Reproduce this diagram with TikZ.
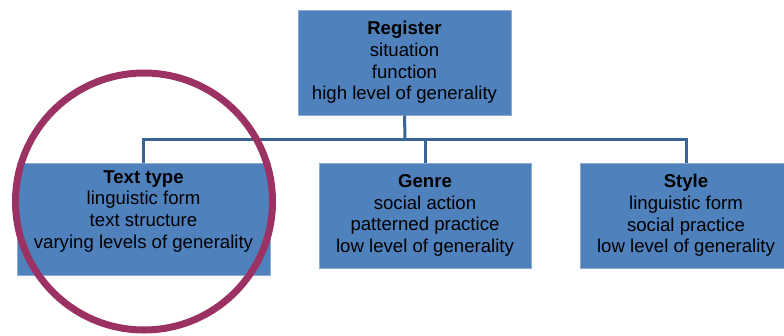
\documentclass[tikz,border=0pt]{standalone}
\usepackage{fontspec}
\setmainfont{Liberation Sans}
\definecolor{boxfill}{RGB}{79,129,189}
\definecolor{boxedge}{RGB}{140,170,212}
\definecolor{linkblue}{RGB}{58,100,150}
\definecolor{ringred}{RGB}{155,50,99}
\tikzset{
  stagetext/.style={align=center, inner sep=0pt, font=\fontsize{18.6}{21.7}\selectfont},
  stagebox/.style={stagetext, draw=boxedge, line width=1pt, fill=boxfill},
  link/.style={draw=linkblue, line width=3pt},
  ring/.style={draw=ringred, line width=7pt}
}
\begin{document}
\begin{tikzpicture}[x=1pt,y=-1pt]
\useasboundingbox (0,0) rectangle (784,335);
% top level
\node[stagebox, minimum width=213, minimum height=105] (reg) at (404.5,62.5) {\textbf{Register}\\situation\\function\\high level of generality};

% three kinds below
\node[stagebox, minimum width=253, minimum height=112] (ttype) at (143.5,219) {};
\node[stagetext, anchor=north] (ttypetext) at (143.5,170) {\textbf{Text type}\\linguistic form\\text structure\\varying levels of generality};
\node[stagebox, minimum width=212, minimum height=105] (genre) at (425,215.5) {\textbf{Genre}\\social action\\patterned practice\\low level of generality};
\node[stagebox, minimum width=212, minimum height=105] (style) at (686,215.5) {\textbf{Style}\\linguistic form\\social practice\\low level of generality};

% connectors
\coordinate (hub) at (405,139);
\draw[link] (reg.south) -- (hub);
\draw[link] (ttype.north) |- (hub) -| (style.north);
\draw[link] (genre.north) |- (hub);

% highlight
\draw[ring] (144,201.5) circle[radius=128.5pt];
\end{tikzpicture}
\end{document}
